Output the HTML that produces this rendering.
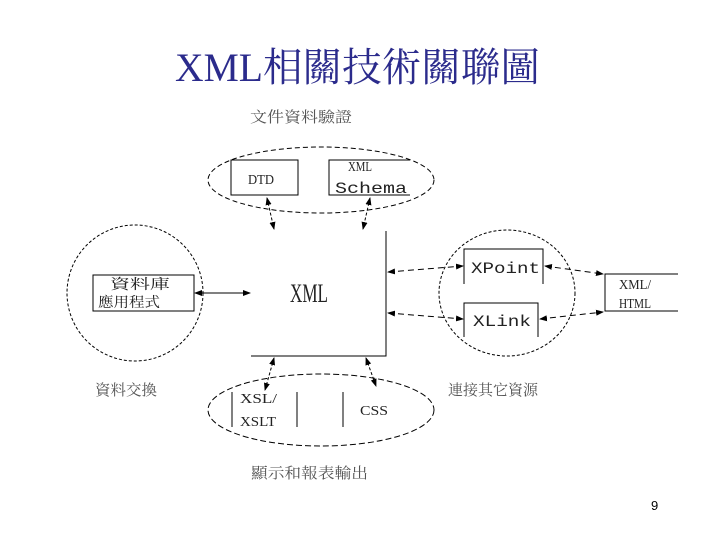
<!DOCTYPE html>
<html><head><meta charset="utf-8"><style>body{margin:0;background:#fff}svg{display:block}</style></head><body>
<svg width="720" height="540" viewBox="0 0 720 540" xmlns="http://www.w3.org/2000/svg" font-family="'Liberation Serif','Noto Serif CJK SC',serif">
<defs><marker id="a" markerWidth="8" markerHeight="8" refX="7" refY="4" orient="auto" markerUnits="userSpaceOnUse"><path d="M0,1 L8,4 L0,7 z" fill="#000"/></marker>
<marker id="s" markerWidth="8" markerHeight="8" refX="1" refY="4" orient="auto" markerUnits="userSpaceOnUse"><path d="M8,1 L0,4 L8,7 z" fill="#000"/></marker></defs>
<text x="175" y="81" font-size="40" fill="#2b2b8c" textLength="365" lengthAdjust="spacingAndGlyphs">XML相關技術關聯圖</text>
<g font-size="15" fill="#555">
<text x="250" y="122" textLength="102" lengthAdjust="spacingAndGlyphs">文件資料驗證</text>
<text x="95" y="395" textLength="62" lengthAdjust="spacingAndGlyphs">資料交換</text>
<text x="448" y="395" textLength="90" lengthAdjust="spacingAndGlyphs">連接其它資源</text>
<text x="251" y="478" textLength="117" lengthAdjust="spacingAndGlyphs">顯示和報表輸出</text>
</g>
<text x="651" y="510" font-size="13" font-family="'Liberation Sans',sans-serif">9</text>
<g fill="none" stroke="#000" stroke-width="1">
<ellipse cx="321" cy="180" rx="113" ry="33" stroke-dasharray="5,3"/>
<rect x="231" y="160" width="67" height="35" fill="#fff"/>
<path d="M410,160 H329 V195 H410" fill="#fff"/>
<path d="M386,231 V356 H251"/>
<circle cx="135" cy="293" r="68" stroke-dasharray="3,2"/>
<rect x="93" y="275" width="101" height="36" fill="none"/>
<ellipse cx="507" cy="293" rx="68" ry="63" stroke-dasharray="3,2"/>
<path d="M464,284 V249 H543 V284"/>
<path d="M464,337 V303 H538 V337"/>
<path d="M678,274 H605 V311 H678"/>
<ellipse cx="321" cy="410" rx="113" ry="36" stroke-dasharray="6,3"/>
<path d="M232,392 V427 M297,392 V427 M343,392 V427"/>
<path d="M267,198 L274,229" stroke-dasharray="3,2" marker-start="url(#s)" marker-end="url(#a)"/>
<path d="M370,198 L363,229" stroke-dasharray="3,2" marker-start="url(#s)" marker-end="url(#a)"/>
<path d="M195,293 L250,293" marker-start="url(#s)" marker-end="url(#a)"/>
<path d="M388,272 L463,266" stroke-dasharray="6,4" marker-start="url(#s)" marker-end="url(#a)"/>
<path d="M388,313 L463,319" stroke-dasharray="6,4" marker-start="url(#s)" marker-end="url(#a)"/>
<path d="M545,266 L603,274" stroke-dasharray="6,4" marker-start="url(#s)" marker-end="url(#a)"/>
<path d="M540,319 L603,312" stroke-dasharray="6,4" marker-start="url(#s)" marker-end="url(#a)"/>
<path d="M274,358 L265,390" stroke-dasharray="3,2" marker-start="url(#s)" marker-end="url(#a)"/>
<path d="M366,358 L376,386" stroke-dasharray="3,2" marker-start="url(#s)" marker-end="url(#a)"/>
</g>
<g font-size="14" fill="#222">
<text x="248" y="184" textLength="26" lengthAdjust="spacingAndGlyphs">DTD</text>
<text x="348" y="171" textLength="24" lengthAdjust="spacingAndGlyphs">XML</text>
<text x="335" y="193" font-family="'Liberation Mono',monospace" font-size="16" textLength="72" lengthAdjust="spacingAndGlyphs">Schema</text>
<text x="290" y="302" font-size="26" textLength="38" lengthAdjust="spacingAndGlyphs">XML</text>
<text x="110" y="289" textLength="60" lengthAdjust="spacingAndGlyphs">資料庫</text>
<text x="98" y="307" textLength="62" lengthAdjust="spacingAndGlyphs">應用程式</text>
<text x="471" y="273" font-family="'Liberation Mono',monospace" font-size="16" textLength="69" lengthAdjust="spacingAndGlyphs">XPoint</text>
<text x="473" y="326" font-family="'Liberation Mono',monospace" font-size="16" textLength="58" lengthAdjust="spacingAndGlyphs">XLink</text>
<text x="619" y="289" textLength="32" lengthAdjust="spacingAndGlyphs">XML/</text>
<text x="619" y="308" textLength="32" lengthAdjust="spacingAndGlyphs">HTML</text>
<text x="240" y="403" textLength="37" lengthAdjust="spacingAndGlyphs">XSL/</text>
<text x="240" y="426" textLength="36" lengthAdjust="spacingAndGlyphs">XSLT</text>
<text x="360" y="415" textLength="28" lengthAdjust="spacingAndGlyphs">CSS</text>
</g>
</svg>
</body></html>
